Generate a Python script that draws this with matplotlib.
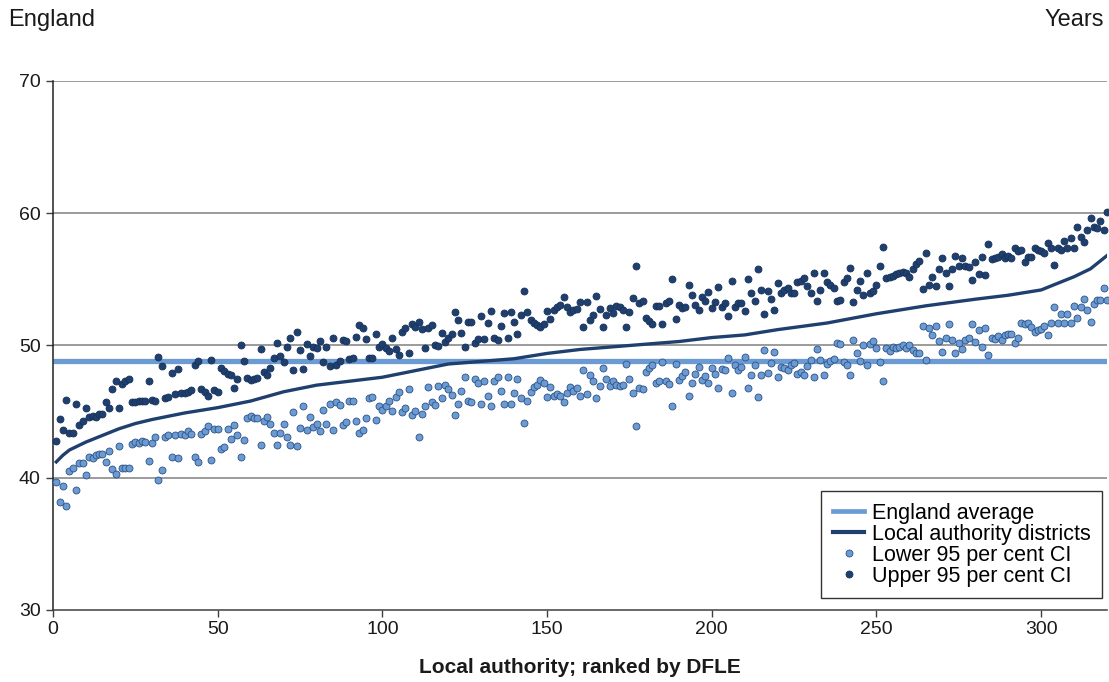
import matplotlib
matplotlib.use("Agg")
import matplotlib.pyplot as plt
from matplotlib.lines import Line2D
import numpy as np

plt.rcParams["font.family"] = ["Liberation Sans", "DejaVu Sans"]

# Upper 95% confidence limits, local authorities ranked by DFLE (rank 1..320)
upper_ci = [
    42.8, 44.45, 43.6, 45.9, 43.4, 43.4, 45.6, 44.0, 44.3, 45.3,
    44.6, 44.7, 44.6, 44.8, 44.8, 45.7, 45.3, 46.7, 47.35, 45.3,
    47.1, 47.35, 47.5, 45.7, 45.7, 45.8, 45.8, 45.8, 47.35,
    45.9, 45.8, 49.1, 48.45, 46.0, 46.1, 47.95, 46.3, 48.2, 46.4,
    46.4, 46.5, 46.6, 48.5, 48.8, 46.7, 46.5, 46.2, 48.9, 46.6,
    46.5, 48.3, 48.1, 47.85, 47.8, 46.8, 47.5, 50.0, 48.85,
    47.57, 47.4, 47.5, 47.57, 49.74, 47.98, 47.78, 48.33, 49.08, 50.17,
    49.24, 48.73, 49.9, 50.55, 48.15, 51.0, 49.67, 48.23, 50.1, 49.24,
    49.9, 49.8, 50.35, 48.73, 49.87, 48.48, 50.6, 48.5, 48.86, 50.4,
    50.34, 48.98, 49.08, 50.67, 51.55, 51.35, 50.47, 49.08, 49.08, 50.84,
    49.9, 50.1, 49.8, 49.6, 50.54, 49.7, 49.3, 51.0, 51.3, 49.4,
    51.6, 51.4, 51.8, 51.25, 49.8, 51.3, 51.55, 50.0,
    49.96, 50.97, 50.3, 50.6, 50.9, 52.5, 51.9, 50.97, 49.9, 51.8,
    51.8, 50.2, 50.5, 52.23, 50.5, 51.7, 52.6, 50.6, 50.4, 51.5,
    52.43, 50.54, 52.56, 51.8, 50.9, 52.3, 54.14, 52.56, 51.9, 51.7,
    51.55, 51.38, 51.63, 52.6, 51.98, 52.69, 52.94, 53.07, 53.64, 52.89,
    52.56, 52.69, 52.74, 53.3, 51.43, 53.3, 51.9, 52.31, 53.74, 52.74,
    51.43, 52.31, 52.81, 52.44, 52.99, 52.89, 52.69, 51.43,
    52.5, 53.6, 56.03, 53.19, 53.37, 52.1, 51.85, 51.6, 53.0, 53.0,
    51.6, 53.19, 53.37, 55.0, 52.0, 53.1, 52.86, 52.94, 54.6, 53.8,
    53.1, 52.7, 53.69, 53.37, 54.07, 52.86, 53.3, 54.4, 52.94, 53.19,
    52.23, 54.9, 52.89, 53.24, 53.24, 52.6, 55.0, 54.0, 53.4, 55.76,
    54.2, 52.38, 54.15, 53.5, 52.69, 54.7, 54.0, 54.2, 54.32, 54.0,
    54.0, 54.83, 54.9, 55.08, 54.5, 54.0, 55.46, 53.39, 54.2,
    55.46, 54.83, 54.57, 54.32, 53.39, 53.44, 54.83, 55.08, 55.83, 53.3,
    54.2, 54.9, 53.8, 55.46, 54.0, 54.15, 54.57, 56.0, 57.47, 55.08,
    55.15, 55.25, 55.4, 55.5, 55.58, 55.5, 55.2, 55.76, 56.2,
    56.4, 54.3, 57.0, 54.6, 55.2, 54.5, 55.8, 56.6, 55.5, 54.5,
    55.8, 56.8, 56.0, 56.6, 56.0, 55.9, 54.95, 56.3, 55.38, 56.7,
    55.33, 57.7, 56.54, 56.6, 56.72, 56.9, 56.6, 56.8, 56.64, 57.35,
    57.15, 57.22, 56.34, 56.72, 56.72, 57.35, 57.22, 57.15, 56.97, 57.73,
    57.35, 56.09, 57.4, 57.22, 57.9, 57.35, 58.1, 57.4, 58.99, 58.23,
    57.85, 58.74, 59.67, 58.99, 58.86, 59.42, 58.74, 60.12,
]

# Lower 95% confidence limits, same ranking
lower_ci = [
    39.7, 38.15, 39.4, 37.9, 40.5, 40.7, 39.1, 41.1, 41.1, 40.2,
    41.6, 41.5, 41.7, 41.8, 41.8, 41.2, 42.0, 40.65, 40.3, 42.4,
    40.7, 40.7, 40.7, 42.56, 42.7, 42.6, 42.8, 42.7, 41.3,
    42.66, 43.06, 39.8, 40.6, 43.06, 43.2, 41.55, 43.2, 41.5, 43.3,
    43.2, 43.5, 43.3, 41.55, 41.17, 43.3, 43.56, 43.9, 41.35, 43.7,
    43.7, 42.15, 42.3, 43.66, 42.9, 44.0, 43.2, 41.6, 42.86,
    44.5, 44.7, 44.5, 44.55, 42.5, 44.3, 44.6, 44.1, 43.4, 42.5,
    43.4, 44.1, 43.06, 42.5, 44.95, 42.4, 43.75, 45.43, 43.6, 44.6,
    43.87, 44.05, 43.54, 45.1, 44.07, 45.6, 43.6, 45.76, 45.5, 44.0,
    44.24, 45.8, 45.8, 44.3, 43.36, 43.6, 44.55, 46.06, 46.13, 44.37,
    45.45, 45.1, 45.45, 45.8, 45.05, 46.1, 46.5, 44.95, 45.3, 46.7,
    44.75, 45.05, 43.06, 44.8, 45.4, 46.84, 45.7, 45.5,
    46.94, 46.0, 47.0, 46.7, 46.26, 44.75, 45.58, 46.56, 47.6, 45.83,
    45.76, 47.44, 47.2, 45.58, 47.34, 46.2, 45.4, 47.34, 47.6, 46.56,
    45.58, 47.6, 45.58, 46.44, 47.44, 46.0, 44.17, 45.83, 46.5, 46.84,
    47.02, 47.4, 47.15, 46.1, 46.84, 46.2, 46.34, 46.2, 45.7, 46.39,
    46.84, 46.59, 46.77, 46.2, 48.15, 46.34, 47.78, 47.35, 46.0, 46.94,
    48.28, 47.45, 46.9, 47.35, 47.02, 46.94, 47.02, 48.6,
    47.47, 46.4, 43.94, 46.8, 46.7, 47.97, 48.28, 48.53, 47.14, 47.3,
    48.73, 47.3, 47.07, 45.46, 48.58, 47.4, 47.72, 47.97, 46.2, 47.14,
    47.82, 48.4, 47.4, 47.72, 47.14, 48.28, 47.82, 46.8, 48.23, 48.15,
    49.03, 46.44, 48.53, 48.15, 48.35, 49.16, 46.77, 47.77, 48.53, 46.14,
    47.77, 49.66, 47.95, 48.66, 49.54, 47.6, 48.35, 48.28, 48.15, 48.53,
    48.66, 47.85, 48.0, 47.77, 48.45, 48.9, 47.6, 49.7, 48.9,
    47.77, 48.6, 48.85, 49.0, 50.17, 50.1, 48.78, 48.53, 47.77, 50.42,
    49.46, 48.85, 50.04, 48.53, 50.1, 50.37, 49.79, 48.78, 47.34, 49.79,
    49.61, 49.86, 49.79, 49.91, 50.04, 49.79, 50.04, 49.66, 49.46,
    49.4, 51.5, 48.9, 51.35, 50.8, 51.5, 50.35, 49.5, 50.6, 51.6,
    50.4, 49.4, 50.2, 49.7, 50.4, 50.55, 51.6, 50.3, 51.2, 49.9,
    51.35, 49.3, 50.6, 50.5, 50.7, 50.4, 50.8, 50.85, 50.85, 50.2,
    50.6, 51.68, 51.6, 51.68, 51.43, 51.05, 51.18, 51.25, 51.5, 50.8,
    51.68, 52.94, 51.68, 52.36, 51.68, 52.36, 51.68, 53.02, 52.11, 52.94,
    53.52, 52.69, 51.8, 53.12, 53.45, 53.45, 54.38, 53.45,
]

# DFLE of the ranked local authority districts (rank, years)
dfle_rank = [1, 3, 5, 10, 15, 20, 25, 30, 40, 50, 60, 70, 80, 90, 100, 110,
             120, 130, 140, 150, 160, 175, 190, 200, 210, 220, 235, 250, 265,
             280, 290, 300, 310, 315, 320]
dfle_years = [41.2, 41.7, 42.1, 42.7, 43.2, 43.7, 44.1, 44.4, 44.9, 45.3,
              45.8, 46.5, 47.0, 47.3, 47.6, 48.1, 48.6, 48.8, 49.0, 49.4,
              49.7, 50.0, 50.3, 50.6, 50.8, 51.2, 51.7, 52.4, 53.0, 53.5,
              53.8, 54.2, 55.2, 55.8, 56.8]

england_average = 48.8

x_ticks = [0, 50, 100, 150, 200, 250, 300]
y_ticks = [30, 40, 50, 60, 70]

LIGHT = "#6b9bd2"
DARK = "#1f3f6e"
GRID = "#808080"
TEXT = "#1a1a1a"

fig = plt.figure(figsize=(11.09, 6.82), dpi=100)
ax = fig.add_axes([53 / 1109, 1 - 610 / 682, (1107 - 53) / 1109, (610 - 81) / 682])

n_up = np.arange(1, len(upper_ci) + 1)
n_lo = np.arange(1, len(lower_ci) + 1)

ax.set_xlim(0, 320)
ax.set_ylim(30, 70)

for y in y_ticks[1:]:
    ax.axhline(y, color=GRID, lw=1.1, zorder=1)

ax.plot([0, 320], [england_average, england_average], color=LIGHT, lw=3.8,
        solid_capstyle="butt", zorder=2)
ax.plot(dfle_rank, dfle_years, color=DARK, lw=2.4, zorder=3)

ax.scatter(n_lo, lower_ci, s=25, facecolor=LIGHT, edgecolor="#2c5187",
           linewidths=0.6, zorder=4, clip_on=False)
ax.scatter(n_up, upper_ci, s=25, facecolor=DARK, edgecolor="#17325a",
           linewidths=0.6, zorder=5, clip_on=False)

ax.set_xticks(x_ticks)
ax.set_yticks(y_ticks)
ax.tick_params(axis="both", labelsize=14, length=5, width=1, color="#404040",
               labelcolor=TEXT)
ax.tick_params(axis="x", pad=3)
ax.tick_params(axis="y", pad=4)

for side in ("top", "right"):
    ax.spines[side].set_visible(False)
ax.spines["left"].set_color("#222222")
ax.spines["bottom"].set_color("#404040")
ax.spines["left"].set_linewidth(1.1)
ax.spines["bottom"].set_linewidth(1.1)

ax.set_xlabel("Local authority; ranked by DFLE", fontsize=15, fontweight="bold",
              color=TEXT, labelpad=14)

fig.text(8 / 1109, 1 - 20 / 682, "England", fontsize=17, color=TEXT,
         ha="left", va="center")
fig.text(1104 / 1109, 1 - 20 / 682, "Years", fontsize=17, color=TEXT,
         ha="right", va="center")

handles = [
    Line2D([], [], color=LIGHT, lw=3.4),
    Line2D([], [], color=DARK, lw=3.0),
    Line2D([], [], ls="none", marker="o", ms=5, mfc=LIGHT, mec="#2c5187", mew=0.6),
    Line2D([], [], ls="none", marker="o", ms=5, mfc=DARK, mec="#17325a", mew=0.6),
]
labels = ["England average", "Local authority districts",
          "Lower 95 per cent CI", "Upper 95 per cent CI"]
leg = ax.legend(handles, labels, loc="lower right", bbox_to_anchor=(0.9955, 0.022),
                fontsize=15.5, frameon=True, fancybox=False, framealpha=1,
                edgecolor="#333333", handlelength=1.45, handletextpad=0.35,
                labelspacing=0.0, borderpad=0.55, borderaxespad=0.0)
leg.get_frame().set_linewidth(1.0)
leg.set_zorder(10)

fig.savefig("out.png", dpi=100)
